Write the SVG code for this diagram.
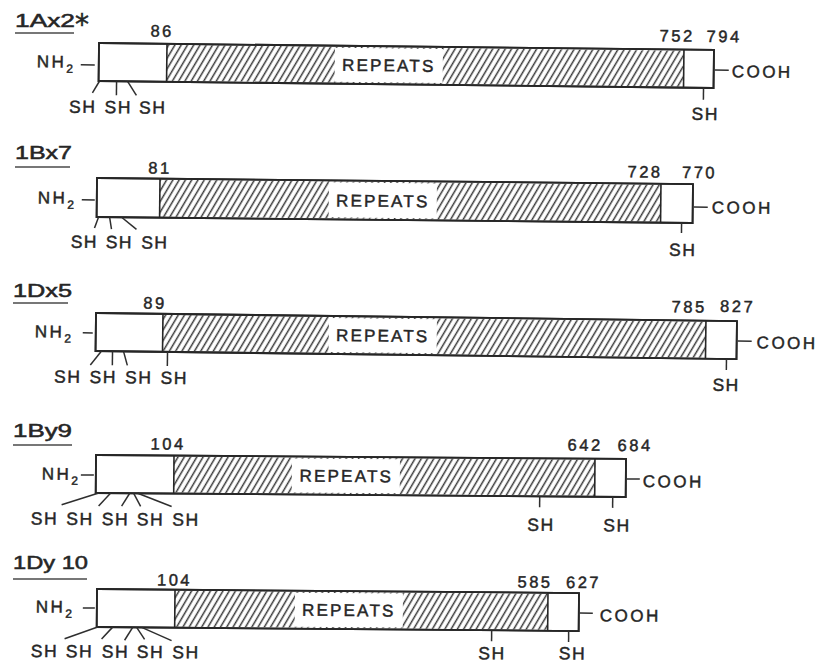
<svg xmlns="http://www.w3.org/2000/svg" width="819" height="664" viewBox="0 0 819 664">
<defs>
<pattern id="hatch" patternUnits="userSpaceOnUse" width="5.4" height="10" patternTransform="rotate(30)">
<line x1="1.5" y1="0" x2="1.5" y2="10" stroke="#3a3a3a" stroke-width="1.5"/>
</pattern>
</defs>
<style>
text{font-family:"Liberation Sans",Arial,sans-serif;fill:#262626;stroke:#262626;stroke-width:0.45px}
.t{font-size:17.5px;stroke-width:0.5px}
.ast{font-family:"DejaVu Sans",sans-serif;font-size:28px}
.num{font-size:16.5px;letter-spacing:2.5px;text-anchor:middle}
.sh{font-size:17.5px;letter-spacing:1.5px;text-anchor:middle}
.rep{font-size:17px;letter-spacing:2.2px;text-anchor:middle}
.end{font-size:17px;letter-spacing:2.5px}
.sub{font-size:12px;letter-spacing:0}
.box{fill:#fff;stroke:#262626;stroke-width:1.8}
.hat{fill:url(#hatch)}
.bd{stroke:#262626;stroke-width:1.6}
.tk{stroke:#2e2e2e;stroke-width:1.5;fill:none}
.ul{stroke:#777;stroke-width:2}
.wp{fill:#fff}
.ol{fill:none;stroke:#262626;stroke-width:1.8}
</style>
<rect x="0" y="0" width="819" height="664" fill="#fff"/>

<g id="titles">
<text class="t" x="15" y="27" textLength="60" lengthAdjust="spacingAndGlyphs">1Ax2</text>
<text class="ast" x="75" y="34">*</text>
<line class="ul" x1="15" y1="33" x2="74" y2="33"/>
<text class="t" x="15" y="159" textLength="57" lengthAdjust="spacingAndGlyphs">1Bx7</text>
<line class="ul" x1="15" y1="167" x2="70" y2="167"/>
<text class="t" x="13" y="297" textLength="59" lengthAdjust="spacingAndGlyphs">1Dx5</text>
<line class="ul" x1="13" y1="303" x2="68" y2="303"/>
<text class="t" x="13" y="437" textLength="59" lengthAdjust="spacingAndGlyphs">1By9</text>
<line class="ul" x1="13" y1="445" x2="72" y2="445"/>
<text class="t" x="13" y="569" textLength="75" lengthAdjust="spacingAndGlyphs">1Dy 10</text>
<line class="ul" x1="13" y1="579" x2="87" y2="579"/>
</g>

<!-- Row 1: 1Ax2* -->
<g id="row-1Ax2" transform="translate(99,43) rotate(0.65)">
<rect class="box" x="0" y="0" width="615" height="38"/>
<rect class="hat" x="68" y="1" width="517" height="36"/>
<rect class="wp" x="236" y="2" width="108" height="34"/>
<text class="rep" x="290" y="25">REPEATS</text>
<line class="bd" x1="68" y1="0" x2="68" y2="38"/>
<line class="bd" x1="585" y1="0" x2="585" y2="38"/>
<rect class="ol" x="0" y="0" width="615" height="38"/>
<text class="num" x="63" y="-7">86</text>
<text class="num" x="578" y="-8">752</text>
<text class="num" x="625" y="-8">794</text>
<text class="end" x="-62" y="25">NH<tspan class="sub" dy="5">2</tspan></text>
<text class="end" x="633" y="27">COOH</text>
<g id="conn-1Ax2">
<line class="tk" x1="-18" y1="22" x2="-4" y2="22"/>
<line class="tk" x1="616" y1="20" x2="630" y2="20"/>
<line class="tk" x1="1" y1="38" x2="-6" y2="50"/>
<line class="tk" x1="18" y1="38" x2="18" y2="52"/>
<line class="tk" x1="29" y1="38" x2="38" y2="52"/>
<line class="tk" x1="605" y1="38" x2="605" y2="50"/>
</g>
<text class="sh" x="-15.5" y="70">SH</text>
<text class="sh" x="20" y="70">SH</text>
<text class="sh" x="54.5" y="70">SH</text>
<text class="sh" x="607" y="70">SH</text>
</g>

<!-- Row 2: 1Bx7 -->
<g id="row-1Bx7" transform="translate(97,178) rotate(0.58)">
<rect class="box" x="0" y="0" width="596" height="39"/>
<rect class="hat" x="63" y="1" width="501" height="37"/>
<rect class="wp" x="232" y="2" width="108" height="35"/>
<text class="rep" x="286" y="26">REPEATS</text>
<line class="bd" x1="63" y1="0" x2="63" y2="39"/>
<line class="bd" x1="564" y1="0" x2="564" y2="39"/>
<rect class="ol" x="0" y="0" width="596" height="39"/>
<text class="num" x="63" y="-5">81</text>
<text class="num" x="548" y="-6">728</text>
<text class="num" x="602.5" y="-6">770</text>
<text class="end" x="-59" y="26">NH<tspan class="sub" dy="5">2</tspan></text>
<text class="end" x="615" y="29">COOH</text>
<g id="conn-1Bx7">
<line class="tk" x1="-15" y1="22" x2="-2" y2="22"/>
<line class="tk" x1="597" y1="23" x2="611" y2="23"/>
<line class="tk" x1="2" y1="39" x2="-2" y2="50"/>
<line class="tk" x1="13" y1="39" x2="15" y2="51"/>
<line class="tk" x1="25" y1="39" x2="40" y2="51"/>
<line class="tk" x1="585" y1="39" x2="585" y2="49"/>
</g>
<text class="sh" x="-12" y="70">SH</text>
<text class="sh" x="23" y="70">SH</text>
<text class="sh" x="58.5" y="70">SH</text>
<text class="sh" x="586.5" y="72">SH</text>
</g>

<!-- Row 3: 1Dx5 -->
<g id="row-1Dx5" transform="translate(96,313) rotate(0.72)">
<rect class="box" x="0" y="0" width="641" height="38"/>
<rect class="hat" x="67" y="1" width="543" height="36"/>
<rect class="wp" x="233" y="2" width="108" height="34"/>
<text class="rep" x="287" y="25">REPEATS</text>
<line class="bd" x1="67" y1="0" x2="67" y2="38"/>
<line class="bd" x1="610" y1="0" x2="610" y2="38"/>
<rect class="ol" x="0" y="0" width="641" height="38"/>
<text class="num" x="59" y="-5">89</text>
<text class="num" x="593" y="-8">785</text>
<text class="num" x="641.5" y="-9">827</text>
<text class="end" x="-61" y="25">NH<tspan class="sub" dy="5">2</tspan></text>
<text class="end" x="661" y="27">COOH</text>
<g id="conn-1Dx5">
<line class="tk" x1="-13" y1="20" x2="-3" y2="20"/>
<line class="tk" x1="642" y1="20" x2="656" y2="20"/>
<line class="tk" x1="6" y1="38" x2="-5" y2="52"/>
<line class="tk" x1="17" y1="38" x2="17" y2="52"/>
<line class="tk" x1="28" y1="38" x2="32" y2="52"/>
<line class="tk" x1="72" y1="38" x2="72" y2="52"/>
<line class="tk" x1="631" y1="38" x2="631" y2="49"/>
</g>
<text class="sh" x="-27.5" y="70">SH</text>
<text class="sh" x="8" y="70">SH</text>
<text class="sh" x="43.5" y="70">SH</text>
<text class="sh" x="79" y="70">SH</text>
<text class="sh" x="631" y="70">SH</text>
</g>

<!-- Row 4: 1By9 -->
<g id="row-1By9" transform="translate(96,455) rotate(0.43)">
<rect class="box" x="0" y="0" width="530" height="38"/>
<rect class="hat" x="78" y="1" width="421" height="36"/>
<rect class="wp" x="196" y="2" width="108" height="34"/>
<text class="rep" x="250.5" y="25">REPEATS</text>
<line class="bd" x1="78" y1="0" x2="78" y2="38"/>
<line class="bd" x1="499" y1="0" x2="499" y2="38"/>
<rect class="ol" x="0" y="0" width="530" height="38"/>
<text class="num" x="72" y="-6">104</text>
<text class="num" x="489" y="-8">642</text>
<text class="num" x="539" y="-8">684</text>
<text class="end" x="-54" y="25">NH<tspan class="sub" dy="5">2</tspan></text>
<text class="end" x="547" y="28">COOH</text>
<g id="conn-1By9">
<line class="tk" x1="-15" y1="20" x2="-2" y2="20"/>
<line class="tk" x1="531" y1="20" x2="544" y2="20"/>
<line class="tk" x1="3" y1="38" x2="-34" y2="50"/>
<line class="tk" x1="15" y1="38" x2="3" y2="51"/>
<line class="tk" x1="34" y1="38" x2="26" y2="51"/>
<line class="tk" x1="38" y1="38" x2="45" y2="51"/>
<line class="tk" x1="42" y1="38" x2="76" y2="51"/>
<line class="tk" x1="444" y1="38" x2="444" y2="49"/>
<line class="tk" x1="517" y1="38" x2="517" y2="49"/>
</g>
<text class="sh" x="-51" y="70">SH</text>
<text class="sh" x="-15.5" y="70">SH</text>
<text class="sh" x="20" y="70">SH</text>
<text class="sh" x="55" y="70">SH</text>
<text class="sh" x="90.5" y="70">SH</text>
<text class="sh" x="445.5" y="72.5">SH</text>
<text class="sh" x="521.5" y="72.5">SH</text>
</g>

<!-- Row 5: 1Dy 10 -->
<g id="row-1Dy10" transform="translate(97,589) rotate(0.48)">
<rect class="box" x="0" y="0" width="482" height="38"/>
<rect class="hat" x="78" y="1" width="373" height="36"/>
<rect class="wp" x="198" y="2" width="108" height="34"/>
<text class="rep" x="252" y="25">REPEATS</text>
<line class="bd" x1="78" y1="0" x2="78" y2="38"/>
<line class="bd" x1="451" y1="0" x2="451" y2="38"/>
<rect class="ol" x="0" y="0" width="482" height="38"/>
<text class="num" x="77.5" y="-4">104</text>
<text class="num" x="438" y="-5">585</text>
<text class="num" x="486.5" y="-5">627</text>
<text class="end" x="-61" y="24">NH<tspan class="sub" dy="5">2</tspan></text>
<text class="end" x="503" y="28">COOH</text>
<g id="conn-1Dy10">
<line class="tk" x1="-14" y1="19" x2="-2" y2="19"/>
<line class="tk" x1="483" y1="20" x2="496" y2="20"/>
<line class="tk" x1="1" y1="38" x2="-32" y2="50"/>
<line class="tk" x1="16" y1="38" x2="5" y2="50"/>
<line class="tk" x1="36" y1="38" x2="28" y2="51"/>
<line class="tk" x1="40" y1="38" x2="48" y2="50"/>
<line class="tk" x1="45" y1="38" x2="75" y2="51"/>
<line class="tk" x1="395" y1="38" x2="395" y2="49"/>
<line class="tk" x1="472" y1="38" x2="472" y2="49"/>
</g>
<text class="sh" x="-52" y="68.5">SH</text>
<text class="sh" x="-17" y="68.5">SH</text>
<text class="sh" x="19" y="68.5">SH</text>
<text class="sh" x="54" y="68.5">SH</text>
<text class="sh" x="89.5" y="68.5">SH</text>
<text class="sh" x="395.5" y="67">SH</text>
<text class="sh" x="476" y="66.5">SH</text>
</g>
</svg>
